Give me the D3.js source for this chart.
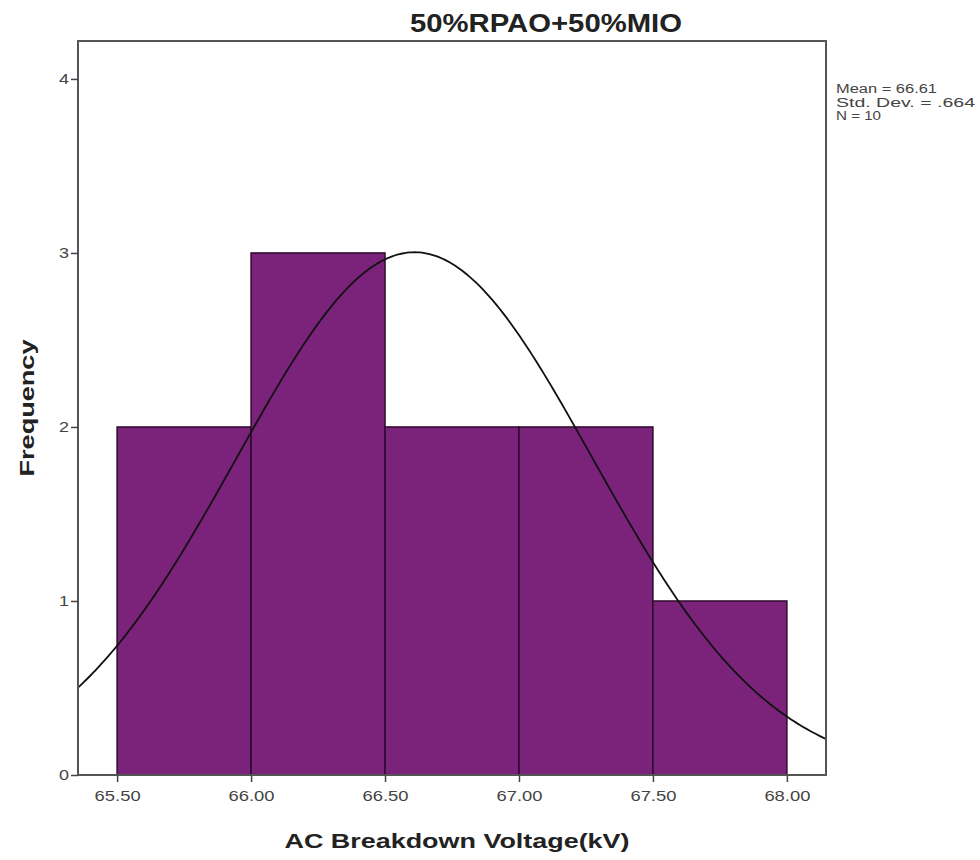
<!DOCTYPE html>
<html>
<head>
<meta charset="utf-8">
<script src="https://cdn.jsdelivr.net/npm/d3@7"></script>
<style>
  body { margin: 0; background: #fff; }
  text { font-family: "Liberation Sans", Arial, sans-serif; }
</style>
</head>
<body>
<script>
// histogram bins (lower edge, upper edge, count)
var binStart = [65.5, 66.0, 66.5, 67.0, 67.5];
var binEnd   = [66.0, 66.5, 67.0, 67.5, 68.0];
var counts   = [2, 3, 2, 2, 1];

var xTicks = [65.5, 66.0, 66.5, 67.0, 67.5, 68.0];
var yTicks = [0, 1, 2, 3, 4];

var stats = ["Mean = 66.61", "Std. Dev. = .664", "N = 10"];
var statsWidth = [101, 139, 45];
var mean = 66.61, sd = 0.664, n = 10, binWidth = 0.5;

var dim = { width: 980, height: 860,
            plot: { left: 78, top: 41, right: 826, bottom: 775 } };

var x = d3.scaleLinear().domain([65.354, 68.146]).range([dim.plot.left, dim.plot.right]);
var y = d3.scaleLinear().domain([0, 4.218]).range([dim.plot.bottom, dim.plot.top]);

var svg = d3.select("body").append("svg")
    .attr("width", dim.width)
    .attr("height", dim.height);

svg.append("defs").append("clipPath").attr("id", "plotClip")
  .append("rect")
    .attr("x", dim.plot.left).attr("y", dim.plot.top)
    .attr("width", dim.plot.right - dim.plot.left)
    .attr("height", dim.plot.bottom - dim.plot.top);

// bars
svg.append("g").selectAll("rect").data(counts).enter()
  .append("rect")
    .attr("x", function(d, i) { return x(binStart[i]); })
    .attr("y", function(d) { return y(d); })
    .attr("width", function(d, i) { return x(binEnd[i]) - x(binStart[i]); })
    .attr("height", function(d) { return y(0) - y(d); })
    .attr("fill", "#7b237a")
    .attr("stroke", "#2e0a2e")
    .attr("stroke-width", 1.5);

// normal curve from mean / sd
var curvePts = d3.range(0, 301).map(function(i) {
    var v = x.domain()[0] + (x.domain()[1] - x.domain()[0]) * i / 300;
    var z = (v - mean) / sd;
    return [v, n * binWidth / (sd * Math.sqrt(2 * Math.PI)) * Math.exp(-0.5 * z * z)];
});
svg.append("path")
    .datum(curvePts)
    .attr("clip-path", "url(#plotClip)")
    .attr("fill", "none")
    .attr("stroke", "#111")
    .attr("stroke-width", 1.8)
    .attr("d", d3.line().x(function(d) { return x(d[0]); }).y(function(d) { return y(d[1]); }));

// frame
svg.append("rect")
    .attr("x", dim.plot.left).attr("y", dim.plot.top)
    .attr("width", dim.plot.right - dim.plot.left)
    .attr("height", dim.plot.bottom - dim.plot.top)
    .attr("fill", "none")
    .attr("stroke", "#555")
    .attr("stroke-width", 2);

// axes
var xAxis = d3.axisBottom(x).tickValues(xTicks).tickFormat(d3.format(".2f")).tickSize(7).tickSizeOuter(0);
var yAxis = d3.axisLeft(y).tickValues(yTicks).tickFormat(d3.format("d")).tickSize(7).tickSizeOuter(0);

var gx = svg.append("g").attr("transform", "translate(0," + dim.plot.bottom + ")").call(xAxis);
var gy = svg.append("g").attr("transform", "translate(" + dim.plot.left + ",0)").call(yAxis);
[gx, gy].forEach(function(g) {
    g.select(".domain").remove();
    g.selectAll(".tick line").attr("stroke", "#444").attr("stroke-width", 1.5);
    g.selectAll(".tick text").attr("fill", "#444").style("font-size", "15px");
});
gx.selectAll(".tick text").attr("dy", "1.05em")
    .attr("textLength", 46).attr("lengthAdjust", "spacingAndGlyphs");
gy.selectAll(".tick text").attr("x", -9)
    .attr("textLength", 10).attr("lengthAdjust", "spacingAndGlyphs");

// title
svg.append("text")
    .attr("x", 546).attr("y", 32)
    .attr("text-anchor", "middle")
    .attr("textLength", 272).attr("lengthAdjust", "spacingAndGlyphs")
    .style("font-size", "25px").style("font-weight", "bold").attr("fill", "#222")
    .text("50%RPAO+50%MIO");

// axis titles
svg.append("text")
    .attr("x", 457).attr("y", 848)
    .attr("text-anchor", "middle")
    .attr("textLength", 345).attr("lengthAdjust", "spacingAndGlyphs")
    .style("font-size", "21px").style("font-weight", "bold").attr("fill", "#222")
    .text("AC Breakdown Voltage(kV)");

svg.append("text")
    .attr("transform", "translate(34,408) rotate(-90)")
    .attr("text-anchor", "middle")
    .attr("textLength", 137).attr("lengthAdjust", "spacingAndGlyphs")
    .style("font-size", "21px").style("font-weight", "bold").attr("fill", "#222")
    .text("Frequency");

// stats box
svg.append("g").selectAll("text").data(stats).enter()
  .append("text")
    .attr("x", 836)
    .attr("y", function(d, i) { return 93 + i * 13.5; })
    .attr("textLength", function(d, i) { return statsWidth[i]; })
    .attr("lengthAdjust", "spacingAndGlyphs")
    .style("font-size", "12.5px").attr("fill", "#444")
    .text(function(d) { return d; });
</script>
</body>
</html>
